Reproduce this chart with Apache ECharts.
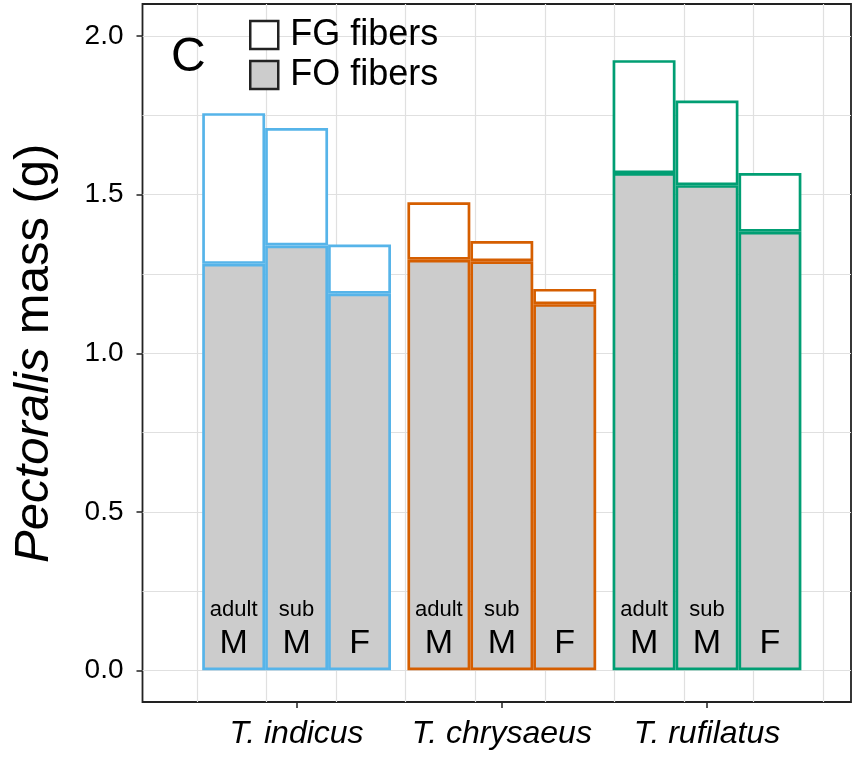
<!DOCTYPE html>
<html>
<head>
<meta charset="utf-8">
<style>
  html, body { margin: 0; padding: 0; background: #fff; }
  #chart { width: 856px; height: 759px; }
</style>
<script src="https://cdn.jsdelivr.net/npm/echarts@6/dist/echarts.min.js"></script>
</head>
<body>
<div id="chart"></div>
<script>
// Species on the x axis
var species = ['T. indicus', 'T. chrysaeus', 'T. rufilatus'];
// Age / sex classes drawn as side-by-side bars within each species
var classes = ['adult M', 'sub M', 'F'];
var classLabels = ['{s|adult}\n{b|M}', '{s|sub}\n{b|M}', '{b|F}'];
var speciesColors = ['#56B4E9', '#D55E00', '#009E73'];

// Pectoralis mass (g): FO fiber portion and whole muscle, per class, by species
var foAdultM = [1.281, 1.294, 1.567];
var foSubM   = [1.339, 1.289, 1.529];
var foF      = [1.187, 1.154, 1.382];
var totalAdultM = [1.756, 1.475, 1.923];
var totalSubM   = [1.709, 1.353, 1.796];
var totalF      = [1.342, 1.202, 1.567];

var yTicks = [0, 0.5, 1.0, 1.5, 2.0];

var foByClass = [foAdultM, foSubM, foF];
var totalByClass = [totalAdultM, totalSubM, totalF];

var FONT = '"Liberation Sans", Arial, Helvetica, sans-serif';
var GRID_COLOR = '#e0e0e0';
var FILL_FO = '#cccccc';
var BORDER_W = 2.7;

var chart = echarts.init(document.getElementById('chart'), null, { renderer: 'canvas' });

var series = [];
classes.forEach(function (cls, ci) {
  var fo = foByClass[ci];
  var tot = totalByClass[ci];
  series.push({
    name: 'FO fibers',
    type: 'bar',
    xAxisIndex: 3, yAxisIndex: 3,
    stack: cls,
    barGap: '0%',
    barCategoryGap: '8%',
    itemStyle: { color: FILL_FO, borderColor: '#000', borderWidth: BORDER_W },
    label: {
      show: true,
      position: 'insideBottom',
      distance: 9,
      formatter: classLabels[ci],
      fontFamily: FONT,
      color: '#000',
      rich: {
        s: { fontSize: 22, lineHeight: 30, fontFamily: FONT, color: '#000' },
        b: { fontSize: 34, lineHeight: 36, fontFamily: FONT, color: '#000' }
      }
    },
    data: fo.map(function (v, si) {
      return { value: v, itemStyle: { borderColor: speciesColors[si] } };
    })
  });
  series.push({
    name: 'FG fibers',
    type: 'bar',
    xAxisIndex: 3, yAxisIndex: 3,
    stack: cls,
    barGap: '0%',
    barCategoryGap: '8%',
    itemStyle: { color: '#ffffff', borderColor: '#000', borderWidth: BORDER_W },
    data: tot.map(function (v, si) {
      return { value: +(v - fo[si]).toFixed(4), itemStyle: { borderColor: speciesColors[si] } };
    })
  });
});

var option = {
  animation: false,
  backgroundColor: '#ffffff',
  textStyle: { fontFamily: FONT },
  title: {
    text: 'C',
    left: 166,
    top: 29,
    textStyle: { fontFamily: FONT, fontSize: 48, fontWeight: 'normal', color: '#000' }
  },
  legend: {
    orient: 'vertical',
    left: 244,
    top: 12,
    itemWidth: 28,
    itemHeight: 28,
    itemGap: 4,
    selectedMode: false,
    textStyle: { fontFamily: FONT, fontSize: 36, color: '#000', padding: [0, 0, 0, 7] },
    data: [
      { name: 'FG fibers', icon: 'rect', itemStyle: { color: '#ffffff', borderColor: '#222', borderWidth: 2.5 } },
      { name: 'FO fibers', icon: 'rect', itemStyle: { color: FILL_FO, borderColor: '#222', borderWidth: 2.5 } }
    ]
  },
  grid: [
    // 0: panel frame
    { left: 142.5, right: 5, top: 4, bottom: 57, show: true, borderColor: '#222', borderWidth: 1.8, backgroundColor: 'transparent' },
    // 1: vertical grid lines
    { left: 197, right: 33, top: 4, bottom: 57 },
    // 2: y scale, labels and horizontal grid lines
    { left: 142.5, right: 5, top: 36, bottom: 88.5 },
    // 3: bars
    { left: 194, right: 46.4, top: 4, bottom: 57 }
  ],
  xAxis: [
    { gridIndex: 0, type: 'value', min: 0, max: 1, show: false },
    {
      gridIndex: 1, type: 'value', min: 0, max: 9, interval: 1,
      axisLine: { show: false }, axisTick: { show: false }, axisLabel: { show: false },
      splitLine: { show: true, lineStyle: { color: GRID_COLOR, width: 1.2 } }
    },
    { gridIndex: 2, type: 'value', min: 0, max: 1, show: false },
    {
      gridIndex: 3, type: 'category', data: species,
      position: 'bottom',
      axisLine: { show: false, onZero: false },
      axisTick: { show: true, alignWithLabel: true, length: 6, lineStyle: { color: '#222', width: 1.5 } },
      axisLabel: { interval: 0, hideOverlap: false, fontFamily: FONT, fontSize: 32, fontStyle: 'italic', color: '#000', margin: 16 },
      splitLine: { show: false }
    }
  ],
  yAxis: [
    { gridIndex: 0, type: 'value', min: 0, max: 1, show: false },
    { gridIndex: 1, type: 'value', min: 0, max: 1, show: false },
    {
      gridIndex: 2, type: 'value', min: yTicks[0], max: yTicks[yTicks.length - 1], interval: 0.5,
      name: '{i|Pectoralis} mass (g)',
      nameLocation: 'middle',
      nameGap: 84,
      nameRotate: 90,
      nameTextStyle: {
        fontFamily: FONT, fontSize: 49, color: '#000',
        rich: { i: { fontFamily: FONT, fontSize: 49, fontStyle: 'italic', color: '#000' } }
      },
      axisLine: { show: false },
      axisTick: { show: true, length: 6, lineStyle: { color: '#222', width: 1.5 } },
      axisLabel: {
        fontFamily: FONT, fontSize: 28, color: '#000', margin: 19,
        formatter: function (v) { return v.toFixed(1); }
      },
      splitLine: { show: true, lineStyle: { color: GRID_COLOR, width: 1.2 } },
      minorTick: { show: false, splitNumber: 2 },
      minorSplitLine: { show: true, lineStyle: { color: GRID_COLOR, width: 1.2 } }
    },
    { gridIndex: 3, type: 'value', min: -0.1, max: 2.1, show: false }
  ],
  series: series
};

chart.setOption(option);
</script>
</body>
</html>
